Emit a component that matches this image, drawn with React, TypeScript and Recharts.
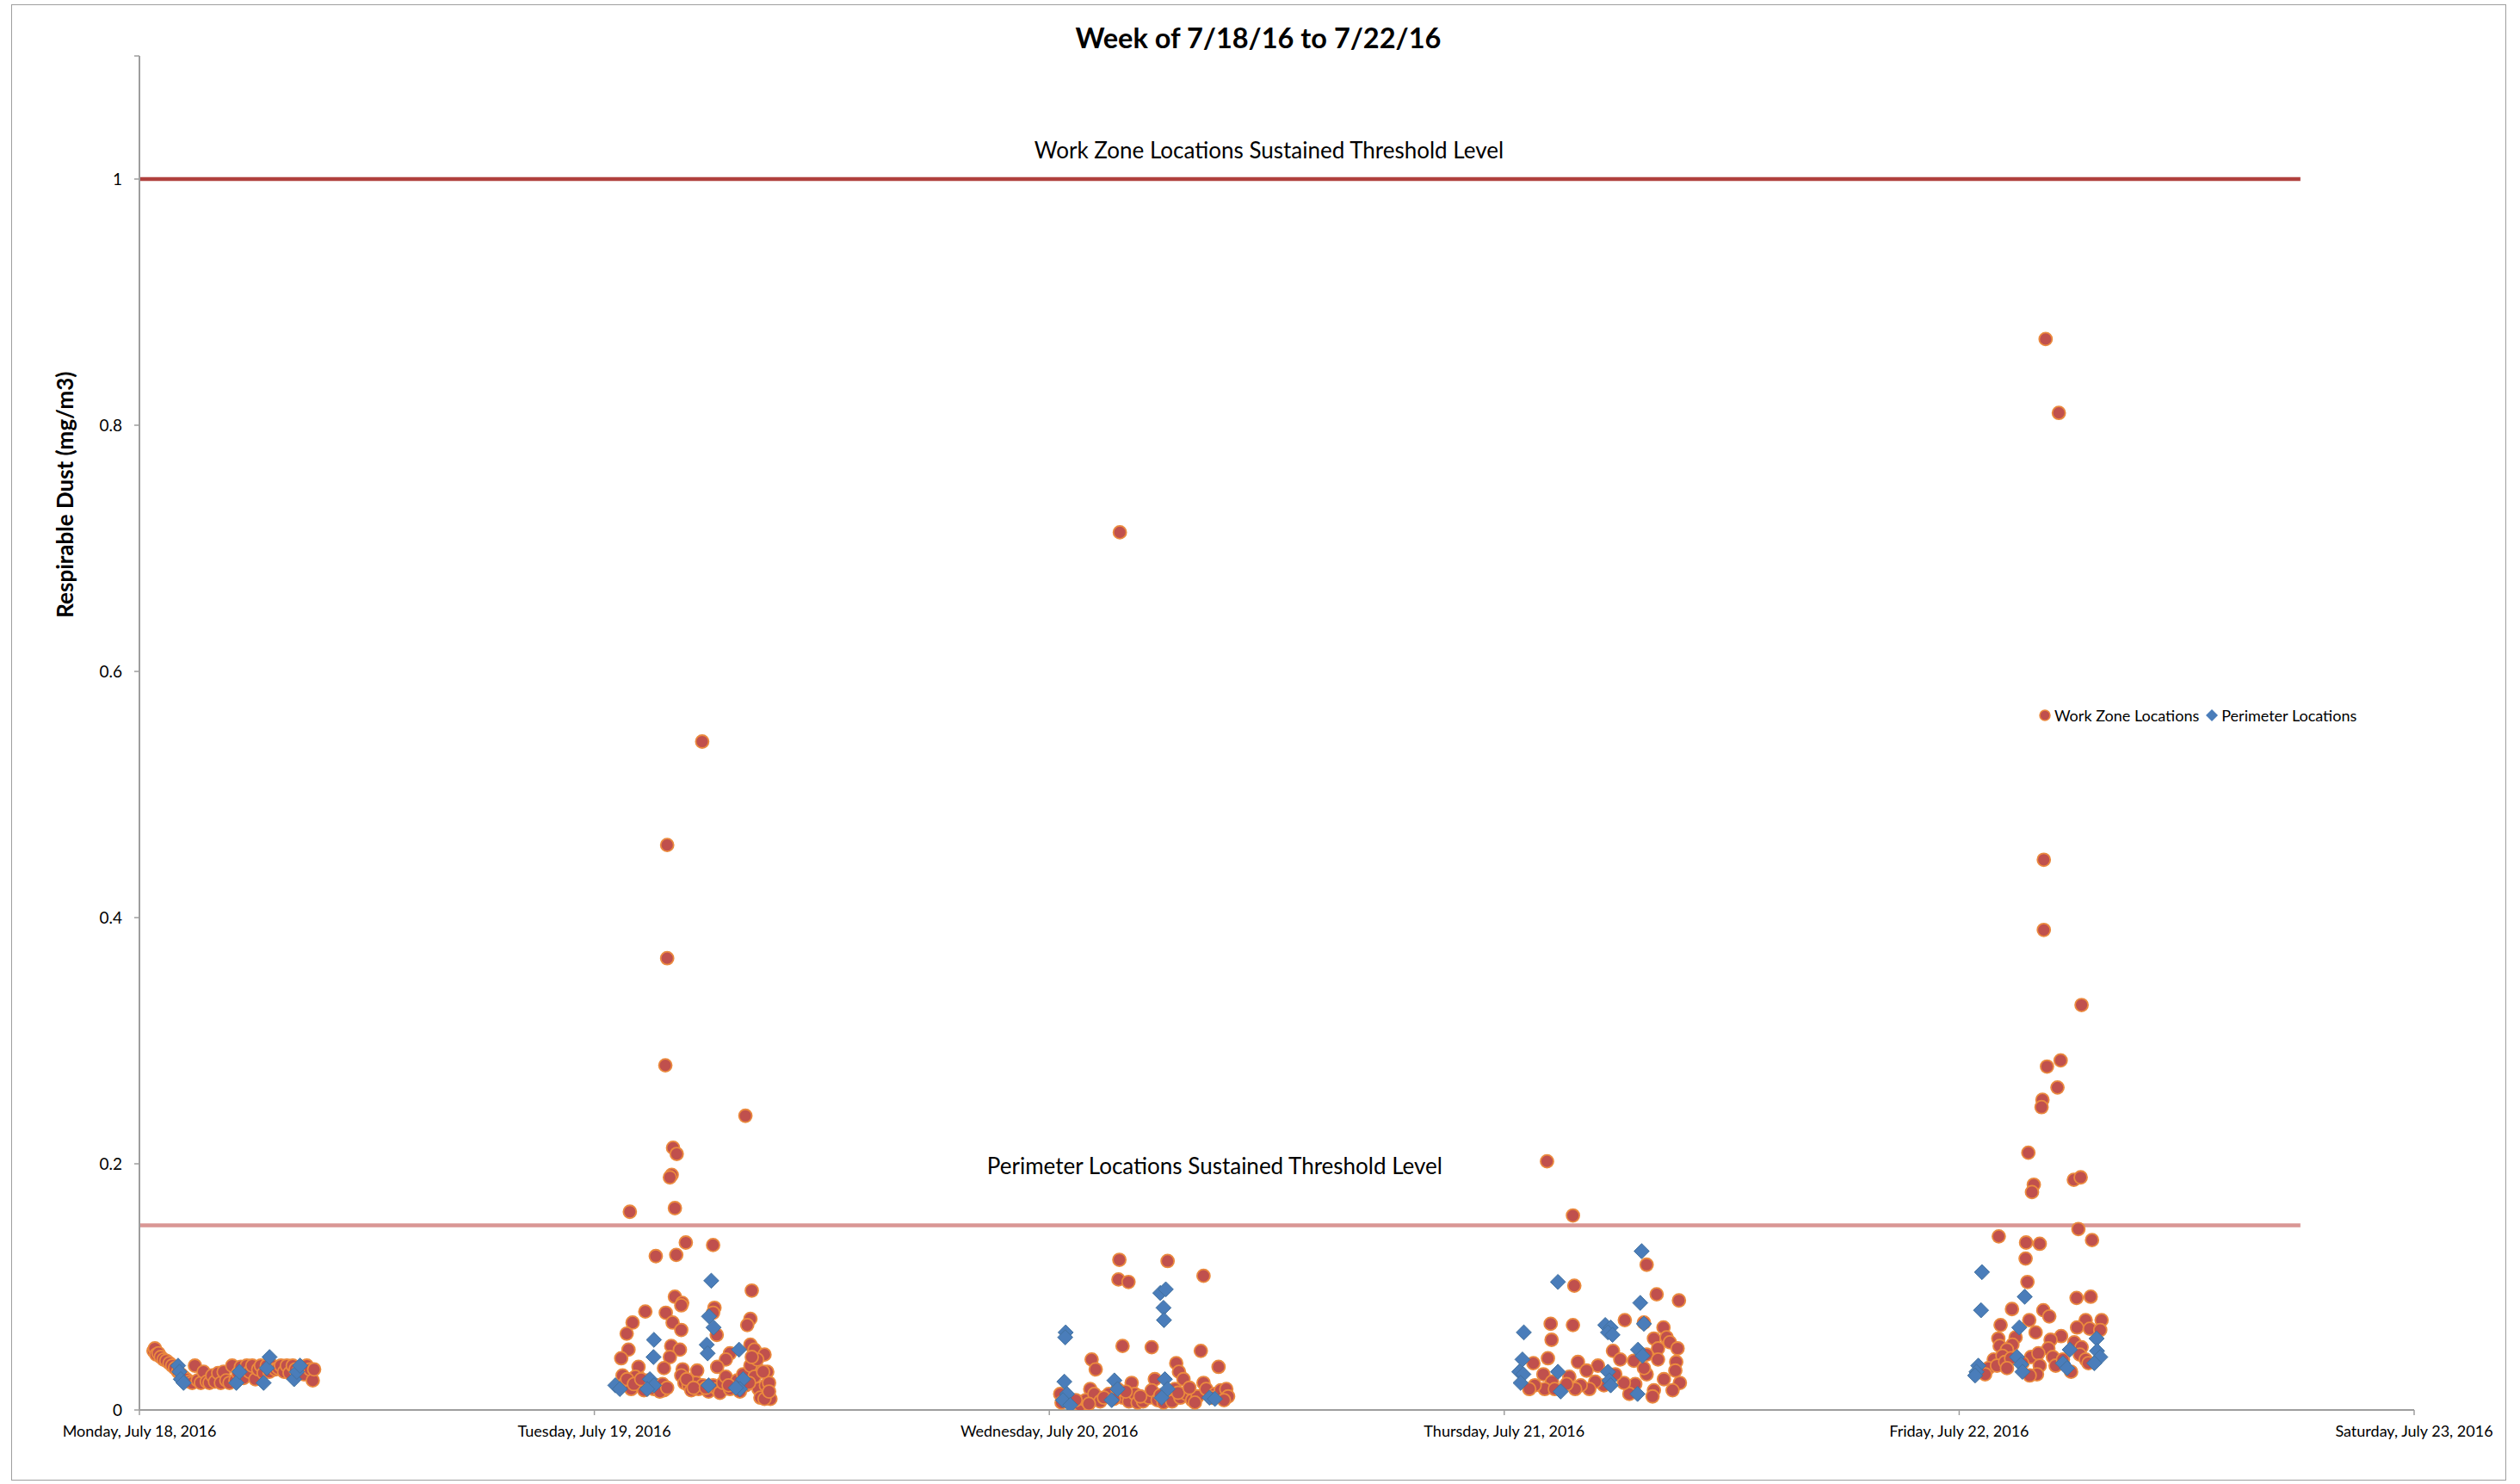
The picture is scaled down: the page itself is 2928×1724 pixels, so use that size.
import React from "react";
import { ScatterChart, Scatter, XAxis, YAxis, ReferenceLine, Legend } from "recharts";

const FONT = "Lato, 'Open Sans', sans-serif";

// x = days since Monday 7/18/16 00:00, y = respirable dust (mg/m3)
type Pt = [number, number];

const xTicks = [0, 1, 2, 3, 4, 5];
const xTickLabels = [
  "Monday, July 18, 2016",
  "Tuesday, July 19, 2016",
  "Wednesday, July 20, 2016",
  "Thursday, July 21, 2016",
  "Friday, July 22, 2016",
  "Saturday, July 23, 2016",
];
const yTicks = [0, 0.2, 0.4, 0.6, 0.8, 1, 1.1];

const workZoneThreshold = 1;
const perimeterThreshold = 0.15;
const thresholdEnd = 4.75;

const workZoneMon: Pt[] = [
  [0.031, 0.048], [0.034, 0.05], [0.037, 0.045], [0.042, 0.046], [0.047, 0.043], [0.053, 0.041],
  [0.059, 0.04], [0.066, 0.038], [0.072, 0.036], [0.078, 0.034], [0.085, 0.031], [0.091, 0.029],
  [0.097, 0.027], [0.103, 0.025], [0.11, 0.023], [0.116, 0.022], [0.122, 0.036], [0.128, 0.024],
  [0.135, 0.022], [0.141, 0.031], [0.148, 0.023], [0.154, 0.022], [0.16, 0.028], [0.166, 0.023],
  [0.173, 0.03], [0.179, 0.022], [0.185, 0.031], [0.191, 0.024], [0.198, 0.022], [0.204, 0.036],
  [0.211, 0.024], [0.217, 0.03], [0.223, 0.035], [0.229, 0.026], [0.236, 0.036], [0.242, 0.031],
  [0.248, 0.036], [0.255, 0.025], [0.261, 0.033], [0.267, 0.036], [0.273, 0.03], [0.28, 0.036],
  [0.286, 0.031], [0.292, 0.036], [0.299, 0.033], [0.305, 0.034], [0.311, 0.036], [0.318, 0.031],
  [0.324, 0.036], [0.33, 0.03], [0.337, 0.036], [0.343, 0.033], [0.349, 0.031], [0.356, 0.035],
  [0.362, 0.029], [0.368, 0.036], [0.375, 0.033], [0.381, 0.024], [0.384, 0.033],
];
const perimeterMon: Pt[] = [
  [0.085, 0.036], [0.088, 0.031], [0.091, 0.025], [0.097, 0.022], [0.213, 0.022], [0.22, 0.031],
  [0.273, 0.022], [0.28, 0.034], [0.286, 0.043], [0.34, 0.025], [0.346, 0.031], [0.353, 0.036],
];

const workZoneTue: Pt[] = [
  [1.237, 0.543], [1.16, 0.459], [1.16, 0.367], [1.156, 0.28], [1.173, 0.213], [1.181, 0.208],
  [1.17, 0.191], [1.166, 0.189], [1.332, 0.239], [1.078, 0.161], [1.177, 0.164],
  [1.201, 0.136], [1.261, 0.134], [1.135, 0.125], [1.18, 0.126], [1.346, 0.097], [1.177, 0.092],
  [1.193, 0.087], [1.191, 0.085], [1.264, 0.083], [1.261, 0.079], [1.112, 0.08], [1.157, 0.079],
  [1.084, 0.071], [1.172, 0.071], [1.191, 0.065], [1.343, 0.074], [1.336, 0.069], [1.071, 0.062],
  [1.269, 0.061], [1.169, 0.052], [1.188, 0.049], [1.075, 0.049], [1.059, 0.042], [1.166, 0.043],
  [1.343, 0.053], [1.352, 0.049], [1.374, 0.045], [1.298, 0.046], [1.289, 0.041], [1.27, 0.035],
  [1.153, 0.034], [1.097, 0.035], [1.38, 0.031], [1.355, 0.036], [1.194, 0.033], [1.226, 0.032],
  [1.062, 0.028], [1.068, 0.022], [1.081, 0.017], [1.09, 0.027], [1.1, 0.02], [1.109, 0.016],
  [1.119, 0.024], [1.131, 0.017], [1.141, 0.02], [1.15, 0.021], [1.153, 0.016], [1.191, 0.028],
  [1.198, 0.022], [1.207, 0.02], [1.213, 0.016], [1.223, 0.022], [1.229, 0.017], [1.238, 0.02],
  [1.251, 0.015], [1.261, 0.02], [1.27, 0.017], [1.276, 0.014], [1.283, 0.022], [1.289, 0.027],
  [1.298, 0.017], [1.308, 0.02], [1.314, 0.024], [1.327, 0.029], [1.333, 0.02], [1.343, 0.036],
  [1.352, 0.027], [1.361, 0.017], [1.365, 0.01], [1.377, 0.02], [1.384, 0.022], [1.387, 0.009],
  [1.374, 0.009], [1.384, 0.015], [1.358, 0.041], [1.371, 0.031], [1.346, 0.043], [1.072, 0.025],
  [1.087, 0.021], [1.103, 0.025], [1.125, 0.02], [1.144, 0.015], [1.16, 0.018], [1.203, 0.025],
  [1.218, 0.018], [1.245, 0.018], [1.295, 0.02], [1.32, 0.015], [1.34, 0.022],
];
const perimeterTue: Pt[] = [
  [1.257, 0.105], [1.252, 0.076], [1.262, 0.067], [1.131, 0.057], [1.13, 0.043], [1.247, 0.053],
  [1.249, 0.046], [1.318, 0.049], [1.046, 0.02], [1.056, 0.017], [1.122, 0.025], [1.131, 0.02],
  [1.116, 0.017], [1.251, 0.02], [1.327, 0.025], [1.32, 0.017], [1.311, 0.018],
];

const workZoneWed: Pt[] = [
  [2.155, 0.713], [2.154, 0.122], [2.26, 0.121], [2.152, 0.106], [2.174, 0.104], [2.339, 0.109],
  [2.161, 0.052], [2.225, 0.051], [2.333, 0.048], [2.372, 0.035], [2.093, 0.041], [2.102, 0.033],
  [2.279, 0.038], [2.285, 0.031], [2.295, 0.025], [2.232, 0.025], [2.181, 0.022], [2.09, 0.017],
  [2.024, 0.013], [2.027, 0.006], [2.049, 0.006], [2.068, 0.004], [2.08, 0.008], [2.099, 0.013],
  [2.112, 0.007], [2.131, 0.013], [2.15, 0.017], [2.162, 0.01], [2.175, 0.007], [2.188, 0.013],
  [2.194, 0.006], [2.206, 0.007], [2.219, 0.01], [2.225, 0.016], [2.238, 0.008], [2.251, 0.006],
  [2.263, 0.013], [2.27, 0.007], [2.276, 0.017], [2.288, 0.01], [2.301, 0.013], [2.314, 0.008],
  [2.326, 0.011], [2.339, 0.022], [2.345, 0.017], [2.364, 0.013], [2.377, 0.016], [2.389, 0.017],
  [2.393, 0.011], [2.058, 0.008], [2.087, 0.005], [2.12, 0.01], [2.142, 0.009], [2.168, 0.015],
  [2.2, 0.011], [2.244, 0.012], [2.283, 0.014], [2.308, 0.018], [2.32, 0.006], [2.357, 0.01],
  [2.384, 0.008],
];
const perimeterWed: Pt[] = [
  [2.036, 0.063], [2.035, 0.059], [2.033, 0.023], [2.039, 0.013], [2.03, 0.008], [2.046, 0.004],
  [2.244, 0.095], [2.256, 0.098], [2.251, 0.083], [2.252, 0.073], [2.143, 0.024], [2.15, 0.017],
  [2.137, 0.008], [2.254, 0.025], [2.26, 0.017], [2.247, 0.01], [2.352, 0.01], [2.364, 0.009],
];

const workZoneThu: Pt[] = [
  [3.094, 0.202], [3.151, 0.158], [3.313, 0.118], [3.154, 0.101], [3.335, 0.094], [3.384, 0.089],
  [3.102, 0.07], [3.151, 0.069], [3.265, 0.073], [3.307, 0.071], [3.104, 0.057], [3.35, 0.067],
  [3.329, 0.058], [3.357, 0.059], [3.364, 0.055], [3.381, 0.05], [3.338, 0.05], [3.096, 0.042],
  [3.064, 0.038], [3.162, 0.039], [3.239, 0.048], [3.255, 0.041], [3.285, 0.04], [3.313, 0.045],
  [3.338, 0.041], [3.378, 0.039], [3.376, 0.032], [3.206, 0.036], [3.181, 0.032], [3.143, 0.027],
  [3.086, 0.029], [3.105, 0.023], [3.386, 0.022], [3.37, 0.016], [3.329, 0.016], [3.326, 0.011],
  [3.288, 0.021], [3.275, 0.013], [3.263, 0.022], [3.244, 0.029], [3.219, 0.02], [3.2, 0.023],
  [3.187, 0.017], [3.168, 0.02], [3.156, 0.017], [3.137, 0.021], [3.089, 0.017], [3.067, 0.02],
  [3.055, 0.017], [3.111, 0.017], [3.313, 0.029], [3.351, 0.025], [3.307, 0.034],
];
const perimeterThu: Pt[] = [
  [3.302, 0.129], [3.118, 0.104], [3.299, 0.087], [3.043, 0.063], [3.222, 0.069], [3.234, 0.067],
  [3.228, 0.063], [3.238, 0.061], [3.307, 0.07], [3.04, 0.041], [3.033, 0.031], [3.042, 0.029],
  [3.036, 0.022], [3.118, 0.031], [3.124, 0.015], [3.228, 0.031], [3.231, 0.024], [3.234, 0.02],
  [3.294, 0.049], [3.304, 0.044], [3.293, 0.013],
];

const workZoneFri: Pt[] = [
  [4.19, 0.87], [4.219, 0.81], [4.186, 0.447], [4.186, 0.39], [4.269, 0.329], [4.223, 0.284],
  [4.193, 0.279], [4.216, 0.262], [4.183, 0.252], [4.181, 0.246], [4.152, 0.209], [4.164, 0.183],
  [4.16, 0.177], [4.252, 0.187], [4.267, 0.189], [4.262, 0.147], [4.292, 0.138], [4.087, 0.141],
  [4.147, 0.136], [4.177, 0.135], [4.146, 0.123], [4.15, 0.104], [4.258, 0.091], [4.289, 0.092],
  [4.116, 0.082], [4.185, 0.081], [4.198, 0.076], [4.154, 0.073], [4.091, 0.069], [4.278, 0.073],
  [4.313, 0.073], [4.259, 0.067], [4.287, 0.066], [4.31, 0.065], [4.168, 0.063], [4.224, 0.06],
  [4.086, 0.058], [4.124, 0.059], [4.201, 0.057], [4.089, 0.052], [4.117, 0.053], [4.105, 0.049],
  [4.253, 0.055], [4.269, 0.051], [4.196, 0.05], [4.076, 0.041], [4.095, 0.044], [4.064, 0.034],
  [4.083, 0.036], [4.101, 0.039], [4.114, 0.042], [4.158, 0.043], [4.174, 0.046], [4.177, 0.036],
  [4.171, 0.029], [4.155, 0.028], [4.206, 0.043], [4.212, 0.036], [4.228, 0.041], [4.246, 0.031],
  [4.265, 0.045], [4.278, 0.041], [4.284, 0.038], [4.105, 0.034], [4.057, 0.029], [4.139, 0.038],
];
const perimeterFri: Pt[] = [
  [4.05, 0.112], [4.048, 0.081], [4.144, 0.092], [4.132, 0.067], [4.302, 0.058], [4.243, 0.049],
  [4.042, 0.036], [4.038, 0.031], [4.035, 0.028], [4.127, 0.043], [4.136, 0.037], [4.139, 0.031],
  [4.228, 0.038], [4.237, 0.034], [4.303, 0.048], [4.31, 0.043], [4.297, 0.038],
];

const toPoints = (...days: Pt[][]) => days.flat().map(([x, y]) => ({ x, y }));

const workZoneData = toPoints(workZoneMon, workZoneTue, workZoneWed, workZoneThu, workZoneFri);
const perimeterData = toPoints(perimeterMon, perimeterTue, perimeterWed, perimeterThu, perimeterFri);

const RED = "#C0504D";
const ORANGE = "#EB8A3E";
const BLUE = "#4A7DBA";
const AXIS = "#9E9E9E";

const CircleMarker = (p: any) => (
  <circle cx={p.cx} cy={p.cy} r={7.5} fill={RED} stroke={ORANGE} strokeWidth={1.8} />
);

const diamondPoints = (cx: number, cy: number, s: number) =>
  `${cx},${cy - s} ${cx + s},${cy} ${cx},${cy + s} ${cx - s},${cy}`;

const DiamondMarker = (p: any) => (
  <polygon points={diamondPoints(p.cx, p.cy, 8.8)} fill={BLUE} stroke="#42719F" strokeWidth={1} />
);

const XTick = ({ x, y, payload }: any) => (
  <text x={x} y={y + 23} textAnchor="middle" fontFamily={FONT} fontSize={18} fill="#000">
    {xTickLabels[xTicks.indexOf(payload.value)]}
  </text>
);

const YTick = ({ x, y, payload }: any) =>
  payload.value > 1 ? (
    <g />
  ) : (
    <text x={x - 12} y={y} dy="0.35em" textAnchor="end" fontFamily={FONT} fontSize={19} fill="#000">
      {payload.value}
    </text>
  );

// label placed relative to the threshold segment's own view box
const thresholdLabel = (text: string, dx: number, dy: number) => (props: any) => {
  const vb = props.viewBox;
  return (
    <text
      x={vb.x + vb.width / 2 + dx}
      y={vb.y + dy}
      textAnchor="middle"
      fontFamily={FONT}
      fontSize={26}
      fill="#000"
    >
      {text}
    </text>
  );
};

const yTitle = (props: any) => {
  const vb = props.viewBox;
  const cx = vb.x - 27;
  const cy = vb.y + vb.height * 0.324;
  return (
    <text
      x={cx}
      y={cy}
      transform={`rotate(-90, ${cx}, ${cy})`}
      textAnchor="middle"
      dominantBaseline="central"
      fontFamily={FONT}
      fontWeight="bold"
      fontSize={26}
      fill="#000"
    >
      Respirable Dust (mg/m3)
    </text>
  );
};

const LegendContent = ({ payload }: any) => {
  const items = [...(payload || [])].sort((a: any, b: any) =>
    a.type === "circle" ? -1 : b.type === "circle" ? 1 : 0
  );
  return (
    <div
      style={{
        display: "flex",
        alignItems: "center",
        fontFamily: FONT,
        fontSize: 18,
        color: "#000",
        whiteSpace: "nowrap",
      }}
    >
      {items.map((e: any, i: number) => (
        <span key={i} style={{ display: "flex", alignItems: "center", marginRight: 6 }}>
          <svg width={18} height={18}>
            {e.type === "diamond" ? (
              <polygon points={diamondPoints(9, 9, 7)} fill={BLUE} />
            ) : (
              <circle cx={9} cy={9} r={6} fill={RED} stroke={ORANGE} strokeWidth={1.5} />
            )}
          </svg>
          <span style={{ marginLeft: 2 }}>{e.value}</span>
        </span>
      ))}
    </div>
  );
};

export default function App() {
  return (
    <div style={{ position: "absolute", left: 0, top: 0, width: 2928, height: 1724, background: "#fff" }}>
      <div
        style={{
          position: "absolute",
          left: 13,
          top: 5,
          width: 2899,
          height: 1715,
          boxSizing: "border-box",
          border: `1.5px solid ${AXIS}`,
        }}
      />
      <div
        style={{
          position: "absolute",
          left: 0,
          top: 24,
          width: 2924,
          textAlign: "center",
          fontFamily: FONT,
          fontWeight: "bold",
          fontSize: 32.5,
          lineHeight: "40px",
          color: "#000",
        }}
      >
        Week of 7/18/16 to 7/22/16
      </div>
      <div style={{ position: "absolute", left: 0, top: 0 }}>
        <ScatterChart width={2928} height={1724} margin={{ top: 65, right: 123, bottom: 46, left: 102 }}>
          <XAxis
            dataKey="x"
            type="number"
            domain={[0, 5]}
            ticks={xTicks}
            interval={0}
            height={40}
            tickSize={6}
            tick={<XTick />}
            tickLine={{ stroke: AXIS, strokeWidth: 1.5 }}
            axisLine={{ stroke: AXIS, strokeWidth: 2 }}
            allowDataOverflow
          />
          <YAxis
            dataKey="y"
            type="number"
            domain={[0, 1.1]}
            ticks={yTicks}
            interval={0}
            width={60}
            tickSize={6}
            tick={<YTick />}
            tickLine={{ stroke: AXIS, strokeWidth: 1.5 }}
            axisLine={{ stroke: AXIS, strokeWidth: 2 }}
            label={yTitle}
            allowDataOverflow
          />
          <ReferenceLine
            segment={[
              { x: 0, y: workZoneThreshold },
              { x: thresholdEnd, y: workZoneThreshold },
            ]}
            stroke="#B0413E"
            strokeWidth={4.5}
            ifOverflow="visible"
            label={thresholdLabel("Work Zone Locations Sustained Threshold Level", 57, -24)}
          />
          <ReferenceLine
            segment={[
              { x: 0, y: perimeterThreshold },
              { x: thresholdEnd, y: perimeterThreshold },
            ]}
            stroke="#D99694"
            strokeWidth={4.5}
            ifOverflow="visible"
            label={thresholdLabel("Perimeter Locations Sustained Threshold Level", -6, -60)}
          />
          <Scatter
            name="Work Zone Locations"
            data={workZoneData}
            fill={RED}
            legendType="circle"
            shape={CircleMarker}
            isAnimationActive={false}
          />
          <Scatter
            name="Perimeter Locations"
            data={perimeterData}
            fill={BLUE}
            legendType="diamond"
            shape={DiamondMarker}
            isAnimationActive={false}
          />
          <Legend
            layout="horizontal"
            align="center"
            verticalAlign="middle"
            content={<LegendContent />}
            wrapperStyle={{ left: 2367, top: 820, width: "auto", height: "auto" }}
          />
        </ScatterChart>
      </div>
    </div>
  );
}
